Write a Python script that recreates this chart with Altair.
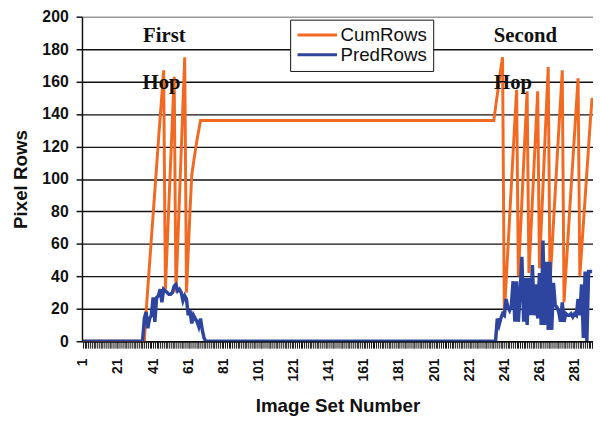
import altair as alt
import pandas as pd

# ---- data ----
image_set = list(range(1, 292))

cum_rows = (
    [0] * 36
    + [18, 33, 48, 63, 78, 93, 108, 123, 138, 152, 167]
    + [32, 58, 85, 111, 137, 163]
    + [30, 59, 88, 117, 146, 175]
    + [30, 55, 80, 102, 110, 117, 124, 130, 136]
    + [136] * 167
    + [144, 152, 160, 168, 175]
    + [16, 36, 56, 76, 96, 116, 136, 155]
    + [40, 63, 86, 109, 132, 154]
    + [42, 64, 87, 110, 132, 154]
    + [45, 70, 95, 120, 145, 169]
    + [36, 54, 73, 92, 111, 130, 148, 167]
    + [24, 42, 59, 77, 94, 111, 128, 145, 162]
    + [40, 56, 72, 88, 104, 120, 136, 150]
)

pred_rows = (
    [0] * 35
    + [14, 18, 8, 14, 16, 27, 12, 27, 28, 32, 24, 32, 31, 30, 29, 29, 30, 34,
       35, 31, 32, 30, 25, 28, 26, 16, 19, 11, 16, 14, 12, 9, 14, 7, 2, 0]
    + [0] * 165
    + [14, 10, 14, 17, 16, 26, 21, 19, 22, 37, 12, 37, 12, 30, 52, 12, 39, 10,
       39, 16, 47, 16, 35, 14, 42, 10, 62, 10, 49, 7, 49, 7, 36, 22, 21, 18,
       12, 24, 12, 17, 16, 16, 17, 15, 17, 16, 26, 16, 35, 2, 43, 0, 43, 43, 43]
)

series_names = ["CumRows", "PredRows"]
series_colors = ["#F26A22", "#2E45A0"]
y_ticks = [0, 20, 40, 60, 80, 100, 120, 140, 160, 180, 200]

annot_text = ["First", "Hop", "Second", "Hop"]
annot_x = [47.4, 45.8, 253.0, 246.0]
annot_y = [184.5, 155.5, 184.5, 155.5]

# ---- tables ----
df_cum = pd.DataFrame({"Image": image_set, "Rows": cum_rows, "Series": "CumRows"})
df_pred = pd.DataFrame({"Image": image_set, "Rows": pred_rows, "Series": "PredRows"})
df_annot = pd.DataFrame({"text": annot_text, "x": annot_x, "y": annot_y})

FONT = "Liberation Sans"
PLOT_H = 329

x_scale = alt.Scale(domain=[0.5, 291.5], nice=False, zero=False)
y_scale = alt.Scale(domain=[0, 200], nice=False)
color_scale = alt.Scale(domain=series_names, range=series_colors)

x_axis = alt.Axis(
    values=image_set,
    labelExpr="(datum.value - 1) % 20 === 0 ? datum.label : ''",
    labelAngle=270,
    labelOverlap=False,
    labelFlush=False,
    labelFont=FONT,
    labelFontWeight="bold",
    labelFontSize=14,
    labelColor="#111",
    labelPadding=10,
    tickSize=7,
    tickColor="#111",
    tickWidth=1,
    domainColor="#111",
    domainWidth=1.5,
    grid=False,
    title="Image Set Number",
    titleFont=FONT,
    titleFontWeight="bold",
    titleFontSize=19,
    titleColor="#111",
    titleX=259,
    titleY=71,
    titleAlign="center",
    titleBaseline="alphabetic",
)

y_axis = alt.Axis(
    values=y_ticks,
    labelOverlap=False,
    labelFont=FONT,
    labelFontWeight="bold",
    labelFontSize=16,
    labelColor="#111",
    labelPadding=8,
    tickSize=6,
    tickColor="#111",
    tickWidth=1.5,
    domainColor="#111",
    domainWidth=1.5,
    grid=True,
    gridColor=alt.condition("datum.value === 200", alt.value("#9a9a9a"), alt.value("#111111")),
    gridWidth=1.4,
    title="Pixel Rows",
    titleFont=FONT,
    titleFontWeight="bold",
    titleFontSize=19,
    titleColor="#111",
    titleAngle=270,
    titleX=-62,
    titleY=PLOT_H / 2,
    titleAlign="center",
    titleBaseline="middle",
)

legend = alt.Legend(
    title=None,
    orient="none",
    legendX=211,
    legendY=3,
    direction="vertical",
    fillColor="white",
    strokeColor="#111",
    padding=6,
    symbolType="stroke",
    symbolSize=1600,
    symbolStrokeWidth=3,
    clipHeight=19,
    rowPadding=0,
    labelFont=FONT,
    labelFontSize=19,
    labelColor="#111",
    labelOffset=2,
)

X = alt.X("Image:Q", scale=x_scale, axis=x_axis)
Y = alt.Y("Rows:Q", scale=y_scale, axis=y_axis)
C = alt.Color("Series:N", scale=color_scale, legend=legend)

cum = alt.Chart(df_cum).mark_line(strokeWidth=3, clip=True).encode(x=X, y=Y, color=C)
pred = alt.Chart(df_pred).mark_line(strokeWidth=3.5, clip=True).encode(x=X, y=Y, color=C)

notes = alt.Chart(df_annot).mark_text(
    font="Liberation Serif", fontWeight="bold", fontSize=21, color="#111",
    align="center", baseline="alphabetic",
).encode(
    x=alt.X("x:Q", scale=x_scale, axis=x_axis),
    y=alt.Y("y:Q", scale=y_scale, axis=y_axis),
    text="text:N",
)

chart = alt.layer(cum, pred, notes).properties(
    width=518,
    height=PLOT_H,
    padding={"left": 75, "top": 6, "right": 0, "bottom": 76},
    autosize=alt.AutoSizeParams(type="none"),
).configure_view(stroke=None)

chart.save("out.html", embed_options={"renderer": "svg", "actions": False})
